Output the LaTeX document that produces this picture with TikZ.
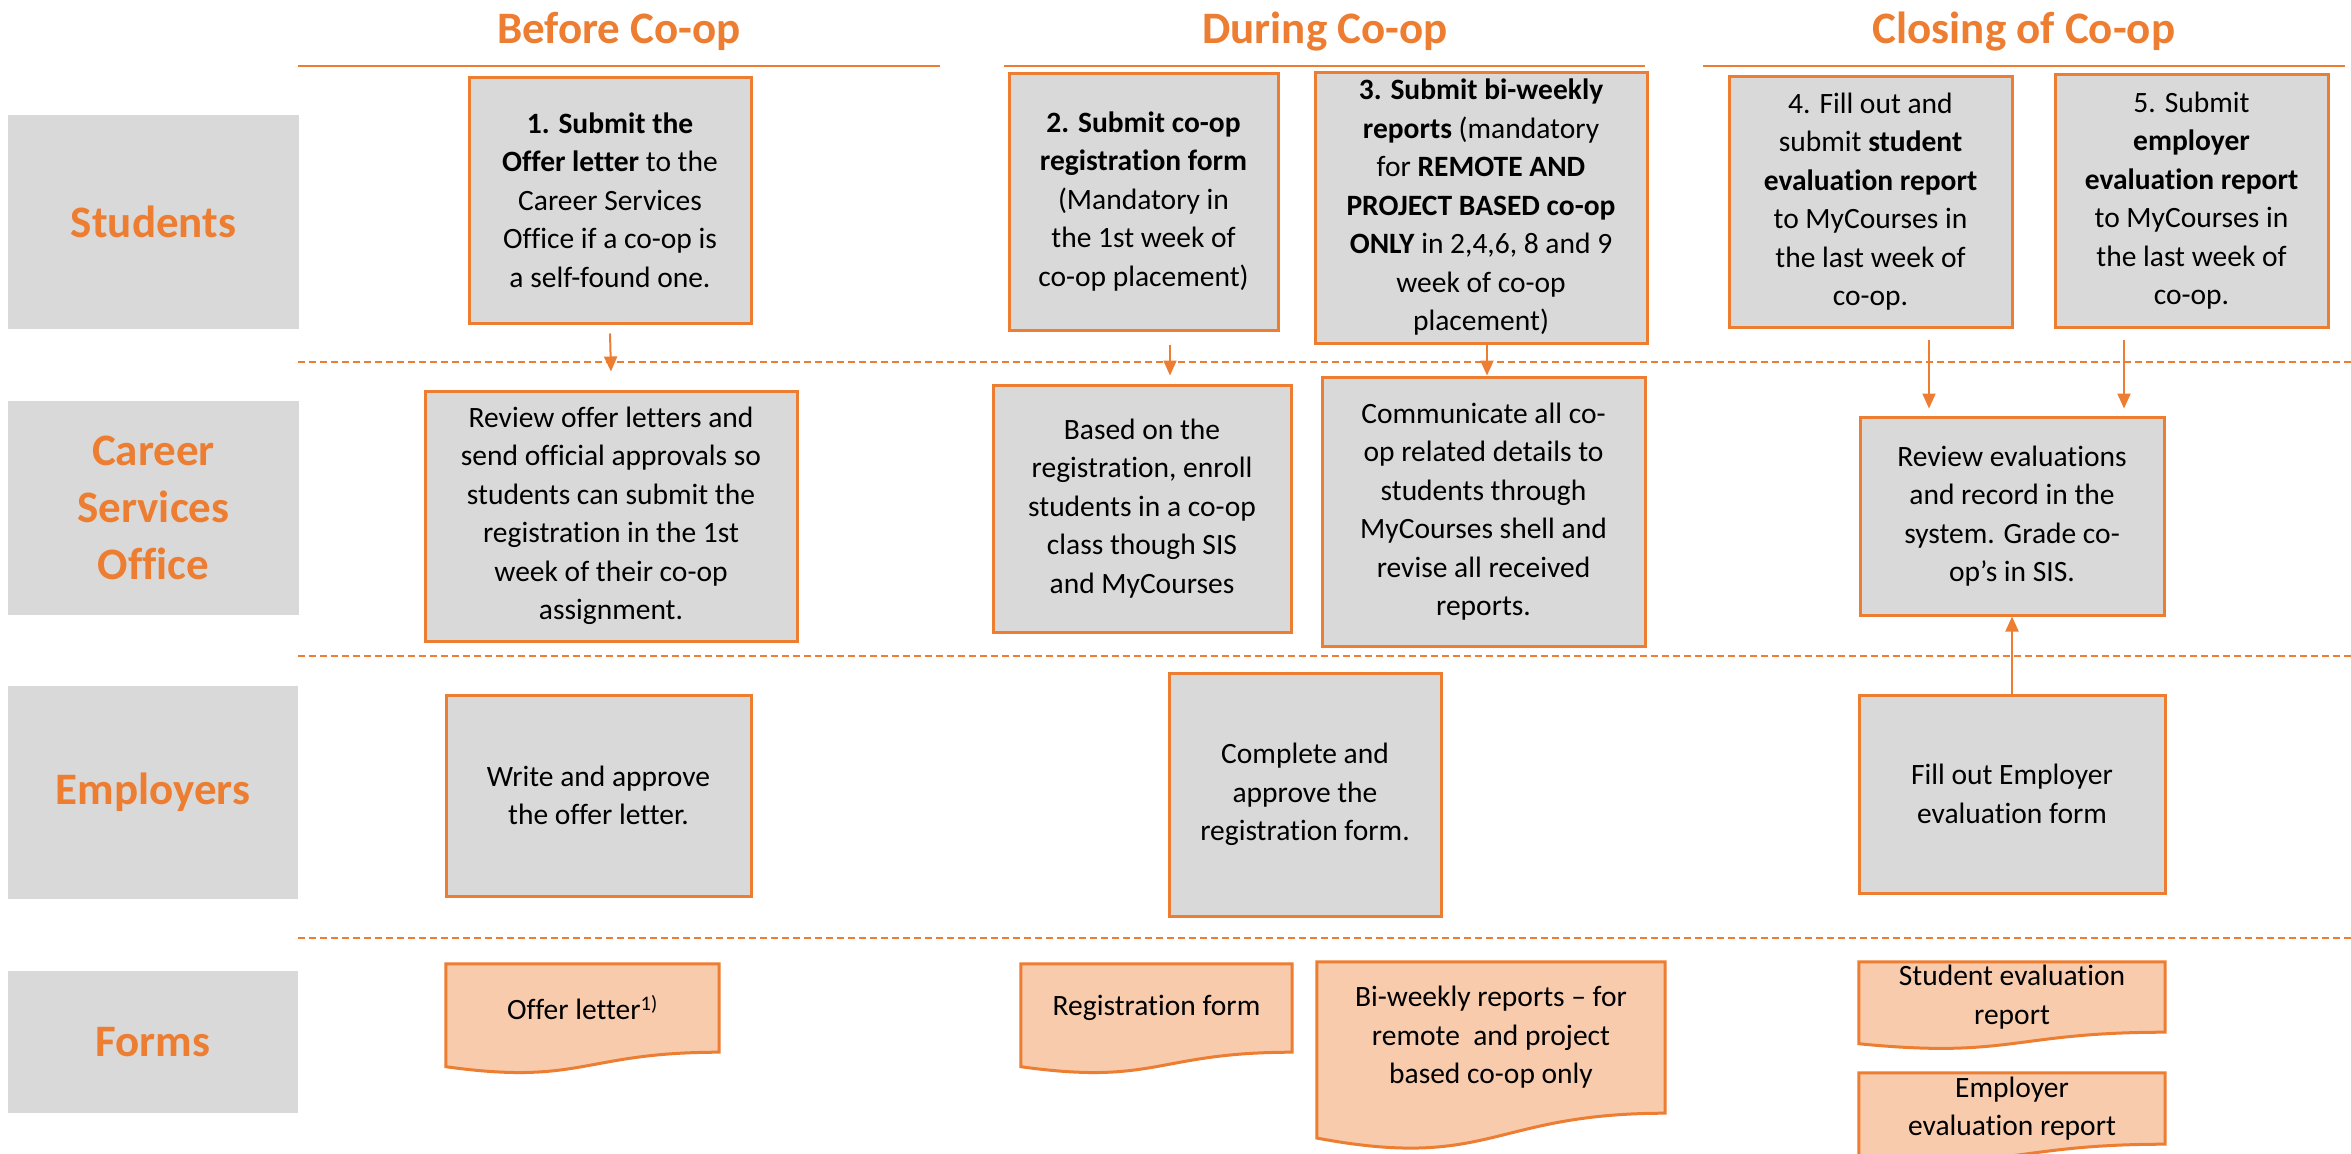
\documentclass[tikz,border=0pt]{standalone}
\usepackage{fontspec}
\setmainfont{Carlito}[Ligatures=NoCommon]
\usetikzlibrary{arrows.meta,calc,backgrounds}
\definecolor{orng}{HTML}{ED7D31}
\definecolor{greyf}{HTML}{D9D9D9}
\definecolor{formf}{HTML}{F8CBAD}
\newcommand{\bodyfs}{\fontsize{29.5}{38.5}\selectfont}
\newcommand{\labfs}{\fontsize{45}{57}\selectfont\bfseries}
\newcommand{\docshape}[2]{\path[formshape] (#1.north west) -- (#1.north east) -- (#1.south east) .. controls (#1.south) and ($(#1.south)+(0,#2*0.381)$) .. ($(#1.south west)+(0,#2*0.1646)$) -- cycle;}
\begin{document}
\begin{tikzpicture}[x=1pt,y=-1pt,
  procbox/.style={draw=orng, line width=3pt, fill=greyf, align=center, inner sep=0pt, font=\bodyfs, text=black},
  lanebox/.style={fill=greyf, align=center, inner sep=0pt, font=\labfs, text=orng},
  phase/.style={font=\labfs, text=orng, inner sep=0pt, anchor=base},
  formtext/.style={align=center, inner sep=0pt, font=\bodyfs, text=black},
  formshape/.style={draw=orng, line width=3pt, fill=formf},
  hdr/.style={draw=orng, line width=2pt},
  sep/.style={draw=orng, line width=2pt, dash pattern=on 7pt off 4pt},
  flow/.style={draw=orng, line width=2pt, -{Triangle[length=15pt,width=13pt]}}]
\useasboundingbox (0,0) rectangle (2351,1154);
\begin{scope}[on background layer]
  \fill[white] (0,0) rectangle (2351,1154);
\end{scope}

% phase titles and header lines
\node[phase] (tb) at (619,43) {Before Co-op};
\node[phase] (td) at (1325,43) {During Co-op};
\node[phase] (tc) at (2024,43) {Closing of Co-op};
\draw[hdr] (298,66) -- (940,66);
\draw[hdr] (1004,66) -- (1645,66);
\draw[hdr] (1703,66) -- (2345,66);

% lane separators
\draw[sep] (298,362) -- (2351,362);
\draw[sep] (298,656) -- (2351,656);
\draw[sep] (298,938) -- (2351,938);

% lane labels
\node[lanebox, minimum width=291pt, minimum height=214pt] (lst) at (153.5,222) {Students};
\node[lanebox, minimum width=291pt, minimum height=214pt] (lcs) at (153.5,508) {Career\\Services\\Office};
\node[lanebox, minimum width=290pt, minimum height=213pt] (lem) at (153,792.5) {Employers};
\node[lanebox, minimum width=290pt, minimum height=142pt] (lfo) at (153,1042) {Forms};

% students row
\node[procbox, minimum width=282pt, minimum height=246pt] (s1) at (610,200)
  {\textbf{1. Submit the}\\\textbf{Offer letter} to the\\Career Services\\Office if a co-op is\\a self-found one.};
\node[procbox, minimum width=269pt, minimum height=257pt] (s2) at (1143.5,201.5)
  {\textbf{2. Submit co-op}\\\textbf{registration form}\\(Mandatory in\\the 1st week of\\co-op placement)};
\node[procbox, minimum width=332pt, minimum height=271pt] (s3) at (1481,207.5)
  {\textbf{3. Submit bi-weekly}\\\textbf{reports} (mandatory\\for \textbf{REMOTE AND}\\\textbf{PROJECT BASED co-op}\\\textbf{ONLY} in 2,4,6, 8 and 9\\week of co-op\\placement)};
\node[procbox, minimum width=283pt, minimum height=251pt] (s4) at (1870.5,201.5)
  {4. Fill out and\\submit \textbf{student}\\\textbf{evaluation report}\\to MyCourses in\\the last week of\\co-op.};
\node[procbox, minimum width=273pt, minimum height=253pt] (s5) at (2191.5,200.5)
  {5. Submit\\\textbf{employer}\\\textbf{evaluation report}\\to MyCourses in\\the last week of\\co-op.};

% career services row
\node[procbox, minimum width=372pt, minimum height=250pt] (c1) at (611,516)
  {Review offer letters and\\send official approvals so\\students can submit the\\registration in the 1st\\week of their co-op\\assignment.};
\node[procbox, minimum width=298pt, minimum height=247pt] (c2) at (1142,508.5)
  {Based on the\\registration, enroll\\students in a co-op\\class though SIS\\and MyCourses};
\node[procbox, minimum width=323pt, minimum height=269pt] (c3) at (1483.5,511.5)
  {Communicate all co-\\op related details to\\students through\\MyCourses shell and\\revise all received\\reports.};
\node[procbox, minimum width=304pt, minimum height=198pt] (c4) at (2012,516)
  {Review evaluations\\and record in the\\system. Grade co-\\op’s in SIS.};

% employers row
\node[procbox, minimum width=305pt, minimum height=201pt] (e1) at (598.5,795.5)
  {Write and approve\\the offer letter.};
\node[procbox, minimum width=272pt, minimum height=243pt] (e2) at (1305,794.5)
  {Complete and\\approve the\\registration form.};
\node[procbox, minimum width=306pt, minimum height=198pt] (e3) at (2012,794)
  {Fill out Employer\\evaluation form};

% forms row
\node[formtext, minimum width=273pt, minimum height=88pt] (f1) at (582.5,1008) {Offer letter\textsuperscript{1)}};
\node[formtext, minimum width=271pt, minimum height=88pt] (f2) at (1156.5,1008) {Registration form};
\node[formtext, minimum width=348pt, minimum height=151pt] (f3) at (1491,1037.5) {Bi-weekly reports – for\\remote~ and project\\based co-op only};
\node[formtext, minimum width=306pt, minimum height=70pt] (f4) at (2012,997) {Student evaluation\\report};
\node[formtext, minimum width=306pt, minimum height=71pt] (f5) at (2012,1108.5) {Employer\\evaluation report};
\begin{scope}[on background layer]
  \docshape{f1}{88}
  \docshape{f2}{88}
  \docshape{f3}{151}
  \docshape{f4}{70}
  \docshape{f5}{71}
\end{scope}

% connectors
\draw[flow] ($(s1.south)+(0,9)$) -- ($(c1.north)+(0,-18)$);
\draw[flow] ($(s2.south)+(26.5,13)$) -- ($(c2.north)+(28,-8)$);
\draw[flow] ($(s3.south)+(6,0)$) -- ($(c3.north)+(3.5,0)$);
\draw[flow] ($(s4.south)+(58.5,11)$) -- ($(c4.north)+(-83,-7)$);
\draw[flow] ($(s5.south)+(-67.5,11)$) -- ($(c4.north)+(112,-7)$);
\draw[flow] (e3.north) -- (c4.south);
\end{tikzpicture}
\end{document}
